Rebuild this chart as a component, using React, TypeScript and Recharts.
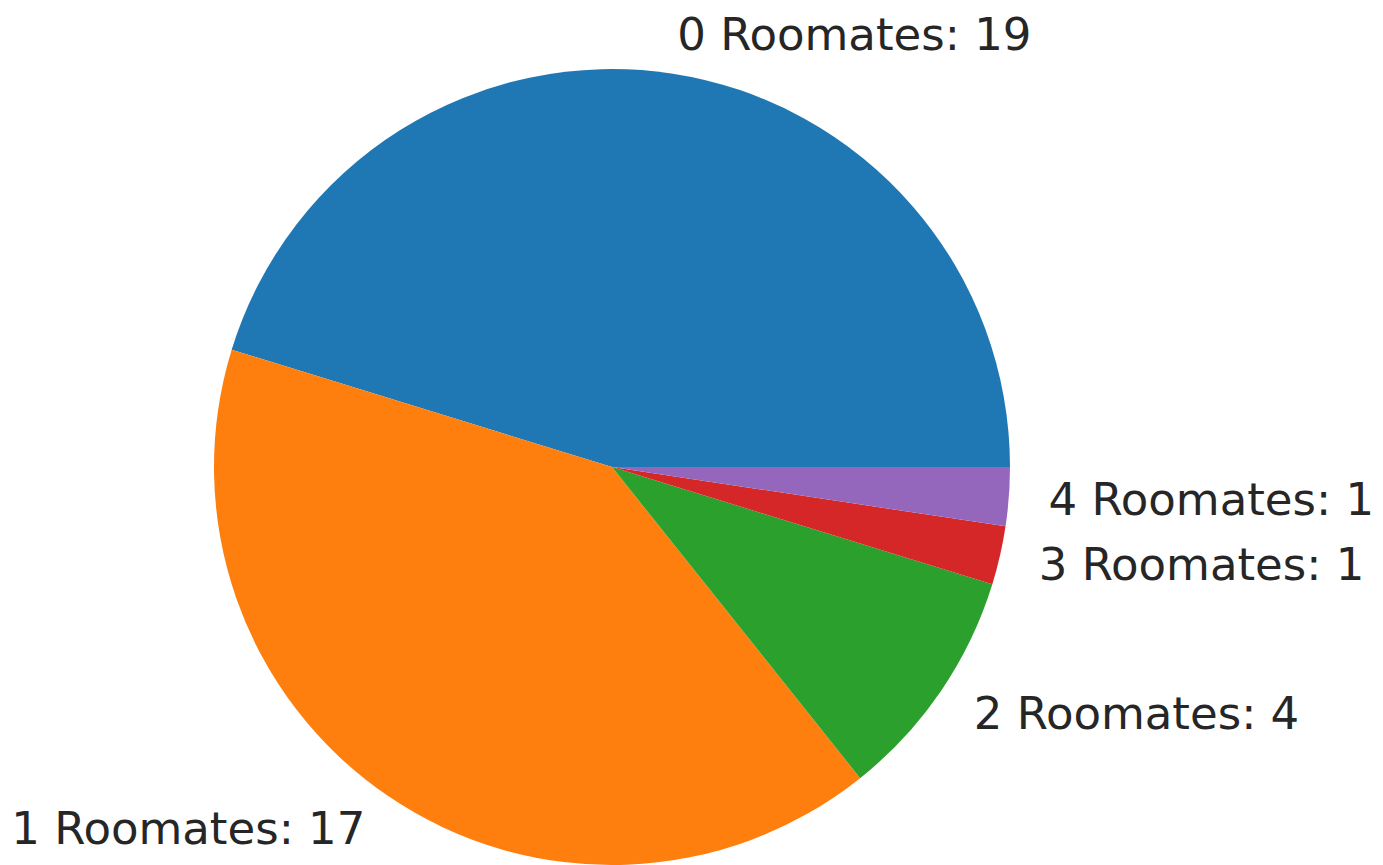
import { PieChart, Pie, Cell } from 'recharts'

const labels = ['0 Roomates', '1 Roomates', '2 Roomates', '3 Roomates', '4 Roomates']
const counts = [19, 17, 4, 1, 1]
const colors = ['#1f77b4', '#ff7f0e', '#2ca02c', '#d62728', '#9467bd']

const data = labels.map((name, i) => ({ name, value: counts[i] }))

const RADIAN = Math.PI / 180
function renderLabel({ cx, cy, midAngle, outerRadius, index }: any) {
  // matplotlib style: label at 1.1 * radius, anchored by side
  const r = outerRadius * 1.1
  const x = cx + r * Math.cos(-midAngle * RADIAN)
  const y = cy + r * Math.sin(-midAngle * RADIAN)
  return (
    <text
      x={x}
      y={y}
      fill="#262626"
      textAnchor={x > cx ? 'start' : 'end'}
      dominantBaseline="central"
      fontSize={45}
      fontFamily="DejaVu Sans"
    >
      {`${data[index].name}: ${data[index].value}`}
    </text>
  )
}

export default function App() {
  return (
    <div style={{ position: 'absolute', left: 0, top: 0, background: '#fff' }}>
      <PieChart width={1383} height={865} margin={{ top: 0, right: 0, bottom: 0, left: 0 }}>
        <Pie
          data={data}
          dataKey="value"
          cx={612}
          cy={467}
          outerRadius={398}
          startAngle={0}
          endAngle={360}
          stroke="none"
          labelLine={false}
          label={renderLabel}
          isAnimationActive={false}
        >
          {data.map((_, i) => (
            <Cell key={i} fill={colors[i]} />
          ))}
        </Pie>
      </PieChart>
    </div>
  )
}
